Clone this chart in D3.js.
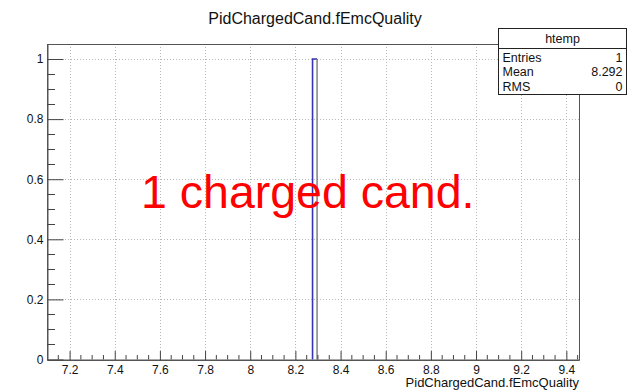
<!DOCTYPE html>
<html>
<head>
<meta charset="utf-8">
<script src="https://cdn.jsdelivr.net/npm/d3@7"></script>
<style>
  html, body { margin: 0; padding: 0; background: #fff; }
  svg { display: block; font-family: "Liberation Sans", Arial, Helvetica, sans-serif; }
</style>
</head>
<body>
<svg id="chart" width="629" height="390"></svg>
<script>
// Histogram of PidChargedCand.fEmcQuality (one entry)
const titleText = "PidChargedCand.fEmcQuality";
const xLabel = "PidChargedCand.fEmcQuality";
const xRange = [7.1, 9.456];
const yRange = [0, 1.05];
const xTicks = [7.2, 7.4, 7.6, 7.8, 8.0, 8.2, 8.4, 8.6, 8.8, 9.0, 9.2, 9.4];
const yTicks = [0, 0.2, 0.4, 0.6, 0.8, 1.0];
const binLow = [8.276];
const binHigh = [8.296];
const binCount = [1];
const statNames = ["Entries", "Mean", "RMS"];
const statValues = ["1", "8.292", "0"];
const statTitle = "htemp";
const annotation = "1 charged cand.";

const svg = d3.select("#chart");
const frame = { left: 47, right: 579, top: 44, bottom: 359.5 };

const x = d3.scaleLinear().domain(xRange).range([frame.left, frame.right]);
const y = d3.scaleLinear().domain(yRange).range([frame.bottom, frame.top]);

// grid
const grid = svg.append("g").attr("stroke", "#b8b8b8").attr("stroke-width", 1).attr("stroke-dasharray", "1,2");
grid.selectAll("line.gx").data(xTicks).join("line")
  .attr("x1", d => Math.round(x(d)) + 0.5).attr("x2", d => Math.round(x(d)) + 0.5)
  .attr("y1", frame.top).attr("y2", frame.bottom);
grid.selectAll("line.gy").data(yTicks.filter(d => d > 0)).join("line")
  .attr("x1", frame.left).attr("x2", frame.right)
  .attr("y1", d => Math.round(y(d)) + 0.5).attr("y2", d => Math.round(y(d)) + 0.5);

// histogram bins
const bins = binLow.map((lo, i) => ({ lo, hi: binHigh[i], n: binCount[i] }));
const hg = svg.append("g");
hg.selectAll("path.edge").data(bins).join("path")
  .attr("fill", "none").attr("stroke", "#3535b5").attr("stroke-width", 1.6)
  .attr("d", d => `M${x(d.lo)},${y(0)}V${y(d.n)}H${x(d.hi)}`);
hg.selectAll("line.redge").data(bins).join("line")
  .attr("stroke", "#6f6f6f").attr("stroke-width", 1.3)
  .attr("x1", d => x(d.hi)).attr("x2", d => x(d.hi))
  .attr("y1", d => y(d.n)).attr("y2", y(0));

// frame
svg.append("rect")
  .attr("x", frame.left + 0.5).attr("y", frame.top + 0.5)
  .attr("width", frame.right - frame.left).attr("height", frame.bottom - frame.top)
  .attr("fill", "none").attr("stroke", "#555").attr("stroke-width", 1);

// x axis (ticks pointing inward)
const xAxis = d3.axisBottom(x).tickValues(xTicks).tickSizeInner(-9).tickSizeOuter(0)
  .tickFormat(d3.format("~g")).tickPadding(5);
const gx = svg.append("g").attr("transform", `translate(0,${frame.bottom + 0.5})`).call(xAxis);
gx.select(".domain").attr("stroke", "#555");
gx.selectAll(".tick line").attr("stroke", "#444");
gx.selectAll(".tick text").attr("font-size", 12).attr("fill", "#111")
  .attr("font-family", "Liberation Sans, Arial, sans-serif");
const xMinor = d3.range(7.15, 9.456, 0.05).filter(v => !xTicks.some(t => Math.abs(t - v) < 1e-6));
svg.append("g").selectAll("line").data(xMinor).join("line")
  .attr("stroke", "#444")
  .attr("x1", d => x(d)).attr("x2", d => x(d))
  .attr("y1", frame.bottom).attr("y2", frame.bottom - 4.5);

// y axis
const yAxis = d3.axisLeft(y).tickValues(yTicks).tickSizeInner(-16).tickSizeOuter(0)
  .tickFormat(d3.format("~g")).tickPadding(4);
const gy = svg.append("g").attr("transform", `translate(${frame.left + 0.5},0)`).call(yAxis);
gy.select(".domain").attr("stroke", "#555");
gy.selectAll(".tick line").attr("stroke", "#444");
gy.selectAll(".tick text").attr("font-size", 12).attr("fill", "#111")
  .attr("font-family", "Liberation Sans, Arial, sans-serif");
const yMinor = d3.range(0.05, 1.05, 0.05).filter(v => !yTicks.some(t => Math.abs(t - v) < 1e-6));
svg.append("g").selectAll("line").data(yMinor).join("line")
  .attr("stroke", "#444")
  .attr("x1", frame.left).attr("x2", frame.left + 8)
  .attr("y1", d => Math.round(y(d)) + 0.5).attr("y2", d => Math.round(y(d)) + 0.5);

// titles
svg.append("text").attr("x", 315).attr("y", 24).attr("text-anchor", "middle")
  .attr("font-size", 16).attr("fill", "#111").text(titleText);
svg.append("text").attr("x", frame.right).attr("y", 387).attr("text-anchor", "end")
  .attr("font-size", 13).attr("fill", "#111").text(xLabel);

// annotation
svg.append("text").attr("x", 141).attr("y", 207.5)
  .attr("font-size", 46.5).attr("fill", "#ff0000").text(annotation);

// statistics box
const sb = { x: 498.5, y: 28.5, w: 128, h: 66, head: 20 };
const stat = svg.append("g");
stat.append("rect").attr("x", sb.x).attr("y", sb.y).attr("width", sb.w).attr("height", sb.h)
  .attr("fill", "#fff").attr("stroke", "#222").attr("stroke-width", 1);
stat.append("line").attr("x1", sb.x).attr("x2", sb.x + sb.w)
  .attr("y1", sb.y + sb.head).attr("y2", sb.y + sb.head).attr("stroke", "#222");
stat.append("text").attr("x", sb.x + sb.w / 2).attr("y", sb.y + 14).attr("text-anchor", "middle")
  .attr("font-size", 12.5).attr("fill", "#111").text(statTitle);
const rowH = 14.5;
stat.selectAll("text.name").data(statNames).join("text")
  .attr("x", sb.x + 4).attr("y", (d, i) => sb.y + sb.head + 13 + i * rowH)
  .attr("font-size", 12.5).attr("fill", "#111").text(d => d);
stat.selectAll("text.val").data(statValues).join("text")
  .attr("x", sb.x + sb.w - 4).attr("y", (d, i) => sb.y + sb.head + 13 + i * rowH)
  .attr("text-anchor", "end").attr("font-size", 12.5).attr("fill", "#111").text(d => d);
</script>
</body>
</html>
